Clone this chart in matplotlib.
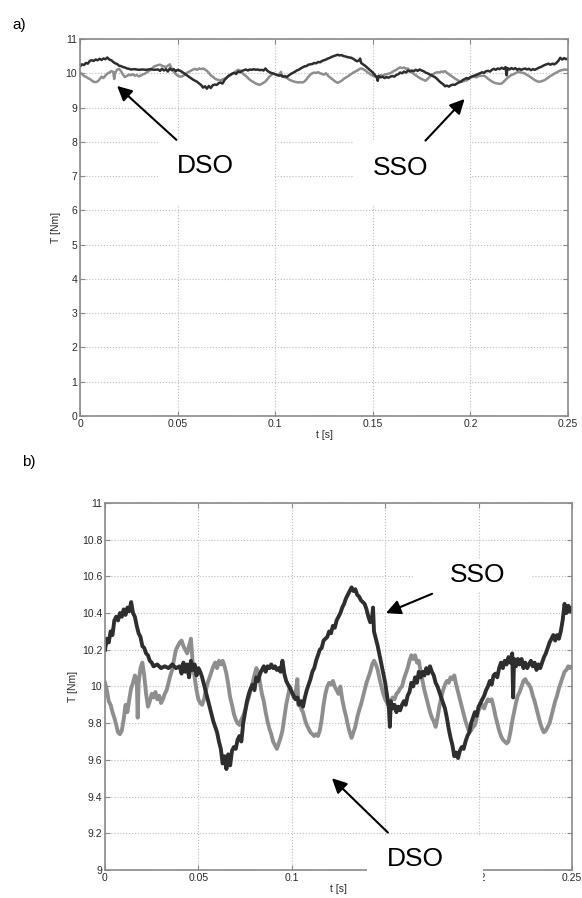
import numpy as np
import matplotlib
matplotlib.use("Agg")
import matplotlib.pyplot as plt
from matplotlib.patches import Rectangle

plt.rcParams['font.family'] = ['Liberation Sans', 'DejaVu Sans']

# torque, single-speed observer (dark trace)
t_sso = [0.000, 0.001, 0.002, 0.003, 0.004, 0.005, 0.006, 0.007, 0.008, 0.009,
         0.010, 0.011, 0.012, 0.013, 0.014, 0.015, 0.016, 0.017, 0.018, 0.019,
         0.020, 0.021, 0.022, 0.023, 0.024, 0.025, 0.026, 0.028, 0.030, 0.032,
         0.034, 0.036, 0.038, 0.040, 0.041, 0.042, 0.043, 0.044, 0.045, 0.046,
         0.047, 0.048, 0.049, 0.050, 0.051, 0.052, 0.053, 0.054, 0.055, 0.056,
         0.057, 0.058, 0.059, 0.060, 0.061, 0.062, 0.063, 0.064, 0.065, 0.066,
         0.067, 0.068, 0.069, 0.070, 0.071, 0.072, 0.073, 0.074, 0.075, 0.076,
         0.077, 0.078, 0.079, 0.080, 0.081, 0.082, 0.083, 0.084, 0.085, 0.086,
         0.087, 0.088, 0.089, 0.090, 0.091, 0.092, 0.093, 0.094, 0.095, 0.096,
         0.097, 0.098, 0.099, 0.100, 0.101, 0.102, 0.103, 0.104, 0.105, 0.106,
         0.107, 0.108, 0.109, 0.110, 0.111, 0.112, 0.113, 0.114, 0.115, 0.116,
         0.117, 0.118, 0.119, 0.120, 0.121, 0.122, 0.123, 0.124, 0.125, 0.126,
         0.127, 0.128, 0.129, 0.130, 0.131, 0.132, 0.133, 0.134, 0.135, 0.136,
         0.137, 0.138, 0.139, 0.140, 0.141, 0.142, 0.143, 0.1435, 0.144, 0.145,
         0.146, 0.147, 0.148, 0.149, 0.150, 0.151, 0.152, 0.1525, 0.153, 0.154,
         0.155, 0.156, 0.157, 0.158, 0.159, 0.160, 0.161, 0.162, 0.163, 0.164,
         0.165, 0.166, 0.167, 0.168, 0.169, 0.170, 0.171, 0.172, 0.173, 0.174,
         0.175, 0.176, 0.177, 0.178, 0.179, 0.180, 0.181, 0.182, 0.183, 0.184,
         0.185, 0.186, 0.187, 0.188, 0.189, 0.190, 0.191, 0.192, 0.193, 0.194,
         0.195, 0.196, 0.197, 0.198, 0.199, 0.200, 0.201, 0.202, 0.203, 0.204,
         0.205, 0.206, 0.207, 0.208, 0.209, 0.210, 0.211, 0.212, 0.213, 0.214,
         0.215, 0.216, 0.217, 0.218, 0.2185, 0.219, 0.220, 0.221, 0.222, 0.223,
         0.224, 0.225, 0.226, 0.227, 0.228, 0.229, 0.230, 0.231, 0.232, 0.233,
         0.234, 0.235, 0.236, 0.237, 0.238, 0.239, 0.240, 0.241, 0.242, 0.243,
         0.244, 0.245, 0.246, 0.247, 0.248, 0.249, 0.250]
T_sso = [10.20, 10.26, 10.24, 10.30, 10.28, 10.36, 10.38, 10.36, 10.40, 10.38,
         10.42, 10.39, 10.43, 10.41, 10.46, 10.40, 10.38, 10.33, 10.29, 10.27,
         10.22, 10.21, 10.18, 10.17, 10.14, 10.13, 10.11, 10.12, 10.10, 10.11,
         10.10, 10.12, 10.10, 10.11, 10.07, 10.13, 10.08, 10.12, 10.05, 10.14,
         10.09, 10.12, 10.06, 10.10, 10.08, 10.05, 10.01, 9.97, 9.93, 9.89,
         9.85, 9.81, 9.78, 9.75, 9.70, 9.66, 9.58, 9.62, 9.55, 9.63,
         9.57, 9.65, 9.67, 9.66, 9.71, 9.73, 9.70, 9.80, 9.86, 9.92,
         9.96, 9.99, 10.01, 9.98, 10.05, 10.03, 10.07, 10.09, 10.11, 10.08,
         10.11, 10.10, 10.12, 10.10, 10.11, 10.09, 10.10, 10.08, 10.14, 10.07,
         10.03, 10.01, 9.99, 9.97, 9.95, 9.93, 9.94, 9.90, 9.92, 9.89,
         9.94, 9.98, 10.01, 10.04, 10.08, 10.10, 10.14, 10.17, 10.20, 10.21,
         10.25, 10.26, 10.27, 10.30, 10.29, 10.33, 10.32, 10.36, 10.38, 10.40,
         10.43, 10.45, 10.48, 10.50, 10.52, 10.54, 10.52, 10.53, 10.50, 10.49,
         10.47, 10.46, 10.45, 10.42, 10.38, 10.35, 10.38, 10.43, 10.30, 10.26,
         10.22, 10.17, 10.12, 10.07, 10.02, 9.95, 9.88, 9.78, 9.92, 9.88,
         9.90, 9.86, 9.89, 9.87, 9.90, 9.92, 9.90, 9.95, 9.97, 10.02,
         10.00, 10.05, 10.02, 10.08, 10.05, 10.08, 10.06, 10.10, 10.07, 10.11,
         10.08, 10.06, 10.02, 10.00, 9.97, 9.94, 9.91, 9.88, 9.83, 9.77,
         9.72, 9.68, 9.62, 9.64, 9.61, 9.65, 9.67, 9.66, 9.70, 9.73,
         9.75, 9.80, 9.83, 9.86, 9.84, 9.89, 9.91, 9.93, 9.95, 9.98,
         10.00, 10.03, 10.01, 10.06, 10.07, 10.05, 10.10, 10.13, 10.10, 10.14,
         10.12, 10.16, 10.13, 10.18, 9.94, 10.15, 10.11, 10.15, 10.12, 10.15,
         10.10, 10.13, 10.10, 10.12, 10.14, 10.11, 10.13, 10.09, 10.12, 10.10,
         10.13, 10.16, 10.18, 10.21, 10.24, 10.26, 10.28, 10.25, 10.28, 10.26,
         10.30, 10.36, 10.45, 10.40, 10.44, 10.41, 10.43]

# torque, dual-speed observer (grey trace)
t_dso = [0.000, 0.001, 0.002, 0.003, 0.004, 0.005, 0.006, 0.007, 0.008, 0.009,
         0.010, 0.011, 0.012, 0.013, 0.014, 0.015, 0.016, 0.017, 0.0175, 0.018,
         0.019, 0.020, 0.021, 0.022, 0.023, 0.024, 0.025, 0.026, 0.027, 0.028,
         0.029, 0.030, 0.031, 0.032, 0.033, 0.034, 0.035, 0.036, 0.037, 0.038,
         0.039, 0.040, 0.041, 0.042, 0.043, 0.044, 0.045, 0.046, 0.047, 0.048,
         0.049, 0.050, 0.051, 0.052, 0.053, 0.054, 0.055, 0.056, 0.057, 0.058,
         0.059, 0.060, 0.061, 0.062, 0.063, 0.064, 0.065, 0.066, 0.067, 0.068,
         0.069, 0.070, 0.071, 0.072, 0.073, 0.074, 0.075, 0.076, 0.077, 0.078,
         0.079, 0.080, 0.081, 0.082, 0.083, 0.084, 0.085, 0.086, 0.087, 0.088,
         0.089, 0.090, 0.091, 0.092, 0.093, 0.094, 0.095, 0.096, 0.097, 0.098,
         0.099, 0.100, 0.101, 0.102, 0.103, 0.1035, 0.104, 0.105, 0.106, 0.107,
         0.108, 0.109, 0.110, 0.111, 0.112, 0.113, 0.114, 0.115, 0.116, 0.117,
         0.118, 0.119, 0.120, 0.121, 0.122, 0.123, 0.124, 0.125, 0.126, 0.127,
         0.128, 0.129, 0.130, 0.131, 0.132, 0.133, 0.134, 0.135, 0.136, 0.137,
         0.138, 0.139, 0.140, 0.141, 0.142, 0.143, 0.144, 0.145, 0.146, 0.147,
         0.148, 0.149, 0.150, 0.151, 0.152, 0.153, 0.154, 0.155, 0.156, 0.157,
         0.158, 0.159, 0.160, 0.161, 0.162, 0.163, 0.164, 0.165, 0.166, 0.167,
         0.168, 0.169, 0.170, 0.171, 0.172, 0.173, 0.174, 0.175, 0.176, 0.177,
         0.178, 0.179, 0.180, 0.181, 0.182, 0.183, 0.184, 0.185, 0.186, 0.187,
         0.188, 0.189, 0.190, 0.191, 0.192, 0.193, 0.194, 0.195, 0.196, 0.197,
         0.198, 0.199, 0.200, 0.201, 0.202, 0.203, 0.204, 0.205, 0.206, 0.207,
         0.208, 0.209, 0.210, 0.211, 0.212, 0.213, 0.214, 0.215, 0.216, 0.217,
         0.218, 0.219, 0.220, 0.221, 0.222, 0.223, 0.224, 0.225, 0.226, 0.227,
         0.228, 0.229, 0.230, 0.231, 0.232, 0.233, 0.234, 0.235, 0.236, 0.237,
         0.238, 0.239, 0.240, 0.241, 0.242, 0.243, 0.244, 0.245, 0.246, 0.247,
         0.248, 0.249, 0.250]
T_dso = [10.02, 9.98, 9.92, 9.90, 9.86, 9.83, 9.79, 9.75, 9.74, 9.76,
         9.82, 9.90, 9.86, 9.93, 9.99, 10.02, 10.06, 10.04, 9.83, 10.02,
         10.10, 10.13, 10.06, 9.96, 9.89, 9.92, 9.96, 9.94, 9.97, 9.93,
         9.95, 9.91, 9.93, 9.96, 9.98, 10.02, 10.06, 10.09, 10.15, 10.20,
         10.22, 10.24, 10.25, 10.22, 10.20, 10.18, 10.22, 10.26, 10.12, 10.05,
         9.98, 9.93, 9.91, 9.90, 9.93, 9.98, 10.02, 10.05, 10.08, 10.11,
         10.13, 10.10, 10.14, 10.12, 10.14, 10.11, 10.07, 10.01, 9.94, 9.90,
         9.85, 9.82, 9.80, 9.79, 9.82, 9.84, 9.87, 9.91, 9.94, 9.98,
         10.02, 10.06, 10.10, 10.08, 10.02, 9.96, 9.92, 9.86, 9.81, 9.77,
         9.74, 9.70, 9.68, 9.66, 9.69, 9.72, 9.76, 9.83, 9.90, 9.95,
         10.00, 9.97, 9.94, 9.96, 10.04, 9.90, 9.92, 9.88, 9.86, 9.82,
         9.79, 9.77, 9.75, 9.74, 9.73, 9.74, 9.73, 9.76, 9.82, 9.90,
         9.96, 10.00, 10.02, 10.01, 10.03, 10.00, 9.98, 9.96, 10.00, 9.93,
         9.88, 9.84, 9.79, 9.75, 9.72, 9.75, 9.78, 9.83, 9.87, 9.90,
         9.94, 9.98, 10.02, 10.05, 10.08, 10.12, 10.14, 10.12, 10.09, 10.04,
         10.00, 9.96, 9.93, 9.91, 9.90, 9.92, 9.94, 9.93, 9.96, 9.97,
         9.99, 10.00, 10.04, 10.07, 10.10, 10.14, 10.17, 10.15, 10.17, 10.13,
         10.14, 10.08, 10.03, 9.98, 9.94, 9.90, 9.86, 9.83, 9.81, 9.78,
         9.83, 9.89, 9.94, 9.98, 10.01, 10.03, 10.02, 10.05, 10.04, 10.06,
         10.01, 9.97, 9.93, 9.89, 9.85, 9.81, 9.78, 9.75, 9.76, 9.78,
         9.79, 9.83, 9.87, 9.89, 9.90, 9.88, 9.91, 9.93, 9.92, 9.93,
         9.89, 9.84, 9.80, 9.76, 9.73, 9.71, 9.70, 9.69, 9.70, 9.75,
         9.81, 9.86, 9.91, 9.95, 9.97, 10.00, 10.03, 10.04, 10.02, 10.01,
         9.99, 9.95, 9.92, 9.88, 9.84, 9.80, 9.77, 9.75, 9.76, 9.78,
         9.80, 9.84, 9.88, 9.92, 9.95, 9.99, 10.02, 10.05, 10.08, 10.09,
         10.11, 10.10, 10.11]

x_ticks = [0, 0.05, 0.1, 0.15, 0.2, 0.25]
x_tick_labels = ['0', '0.05', '0.1', '0.15', '0.2', '0.25']
y_ticks_a = list(range(0, 12))
y_ticks_b = [9, 9.2, 9.4, 9.6, 9.8, 10, 10.2, 10.4, 10.6, 10.8, 11]
y_tick_labels_b = ['9', '9.2', '9.4', '9.6', '9.8', '10', '10.2', '10.4', '10.6', '10.8', '11']

DARK = '#2e2e2e'
GREY = '#8e8e8e'
FRAME = '#8a8a8a'


def style_axes(ax, yticks, ylabels):
    ax.set_xlim(0, 0.25)
    ax.set_xticks(x_ticks)
    ax.set_xticklabels(x_tick_labels)
    ax.set_yticks(yticks)
    ax.set_yticklabels(ylabels)
    ax.grid(True, linestyle=':', color='#bdbdbd', linewidth=0.8)
    ax.tick_params(direction='in', length=3.5, width=0.8, color=FRAME,
                   labelsize=7.5, labelcolor='#2a2a2a', top=True, right=True, pad=2)
    for s in ax.spines.values():
        s.set_color(FRAME)
        s.set_linewidth(1.2)
    ax.set_xlabel('t [s]', fontsize=7.5, color='#2a2a2a', labelpad=1)
    ax.set_ylabel('T [Nm]', fontsize=7.5, color='#2a2a2a', labelpad=3)


def mask(ax, x0, y0, w, h):
    ax.add_patch(Rectangle((x0, y0), w, h, transform=ax.transAxes,
                           facecolor='white', edgecolor='none', zorder=4, clip_on=False))


def label(ax, text, xy, xytext):
    ax.annotate(text, xy=xy, xytext=xytext, fontsize=19, ha='center', va='center',
                zorder=6,
                arrowprops=dict(arrowstyle='-|>', color='black', lw=1.5,
                                mutation_scale=22, shrinkA=12, shrinkB=0))


fig = plt.figure(figsize=(5.82, 8.98), dpi=100)

# a) full scale
ax1 = fig.add_axes([0.1375, 0.5367, 0.8385, 0.4199])
ax1.plot(t_dso, T_dso, color=GREY, lw=1.8, solid_joinstyle='round')
ax1.plot(t_sso, T_sso, color=DARK, lw=1.8, solid_joinstyle='round')
ax1.set_ylim(0, 11)
style_axes(ax1, y_ticks_a, [str(v) for v in y_ticks_a])
mask(ax1, 0.16, 0.56, 0.24, 0.17)
mask(ax1, 0.559, 0.56, 0.24, 0.17)
label(ax1, 'DSO', (0.019, 9.63), (0.064, 7.3))
label(ax1, 'SSO', (0.197, 9.25), (0.164, 7.25))

# b) zoomed around the set point
ax2 = fig.add_axes([0.1804, 0.0312, 0.8024, 0.4087])
ax2.plot(t_dso, T_dso, color=GREY, lw=2.8, solid_joinstyle='round')
ax2.plot(t_sso, T_sso, color=DARK, lw=2.8, solid_joinstyle='round')
ax2.set_ylim(9, 11)
style_axes(ax2, y_ticks_b, y_tick_labels_b)
mask(ax2, 0.561, -0.08, 0.248, 0.175)
mask(ax2, 0.66, 0.76, 0.253, 0.085)
label(ax2, 'DSO', (0.1215, 9.50), (0.166, 9.06))
label(ax2, 'SSO', (0.1504, 10.40), (0.1997, 10.61))

fig.text(0.021, 0.972, 'a)', fontsize=11, va='center')
fig.text(0.038, 0.486, 'b)', fontsize=11, va='center')

fig.savefig('out.png', dpi=100)
